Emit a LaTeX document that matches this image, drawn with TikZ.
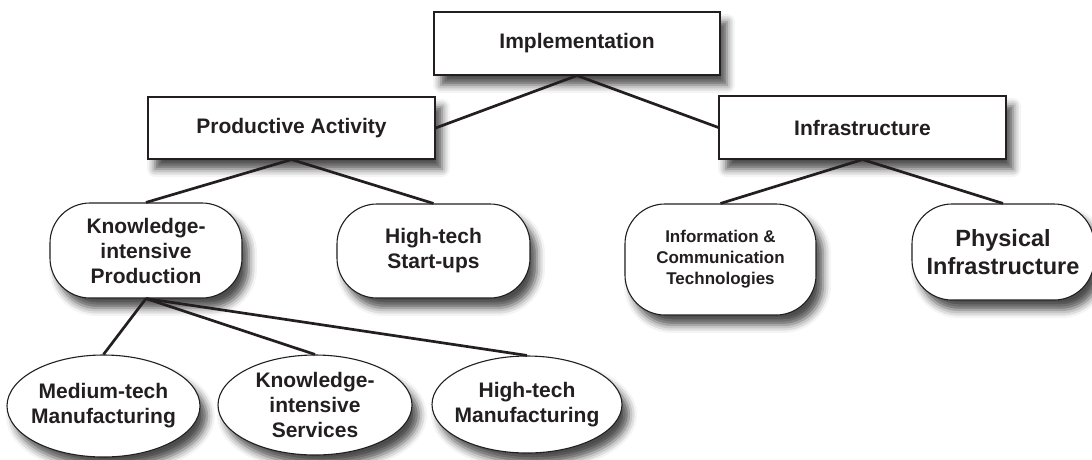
\documentclass[tikz,border=0pt]{standalone}
\usepackage{fontspec}
\setmainfont{Liberation Sans}
\usetikzlibrary{shapes.geometric, shadows.blur}
\definecolor{ink}{HTML}{231F20}

\begin{document}
\begin{tikzpicture}[x=1pt, y=-1pt,
                every node/.style={align=center, text=ink, font=\fontsize{21}{25}\selectfont\bfseries},
                soft/.style={blur shadow={shadow xshift=7pt, shadow yshift=-10pt, shadow blur radius=8pt, shadow opacity=70}},
                box/.style={draw=ink, line width=1.1pt, fill=white, soft, inner sep=0pt},
                pill/.style={box, rounded corners=40pt},
                oval/.style={box, ellipse, inner xsep=-8pt, inner ysep=0pt},
                link/.style={draw=ink, line width=2.7pt}]
                \useasboundingbox (0,0) rectangle (1092,459);
                % top level and its two branches
                \node[box, minimum width=286pt, minimum height=63pt] (impl)  at (577,43.5)   {Implementation};
                \node[box, minimum width=287pt, minimum height=62pt] (prod)  at (291.5,128)  {Productive Activity};
                \node[box, minimum width=287pt, minimum height=63pt] (infra) at (862.5,127.5) {Infrastructure};
                % second level
                \node[pill, minimum width=192pt, minimum height=95pt]  (kip)  at (146,250.5) {Knowledge-\\intensive\\Production};
                \node[pill, minimum width=193pt, minimum height=94pt]  (hts)  at (433.5,251) {High-tech\\Start-ups};
                \node[pill, minimum width=191pt, minimum height=111pt, font=\fontsize{17}{21}\selectfont\bfseries]
                      (ict)  at (720.5,259.5) {Information \&\\Communication\\Technologies};
                \node[pill, minimum width=182pt, minimum height=96pt, font=\fontsize{23.5}{28}\selectfont\bfseries]
                      (phys) at (1003,252) {Physical\\Infrastructure};
                % third level
                \node[oval, minimum width=193pt, minimum height=102pt] (mtm) at (103.5,406) {Medium-tech\\Manufacturing};
                \node[oval, minimum width=194pt, minimum height=100pt] (kis) at (315,405)   {Knowledge-\\intensive\\Services};
                \node[oval, minimum width=190pt, minimum height=97pt]  (htm) at (527,404.5) {High-tech\\Manufacturing};
                \draw[link] (impl.south)  -- (prod.east);
                \draw[link] (impl.south)  -- (infra.west);
                \draw[link] (prod.south)  -- (kip.north);
                \draw[link] (prod.south)  -- (hts.north);
                \draw[link] (infra.south) -- (ict.north);
                \draw[link] (infra.south) -- (phys.north);
                \draw[link] (kip.south)   -- (mtm.north);
                \draw[link] (kip.south)   -- (kis.north);
                \draw[link] (kip.south)   -- (htm.north);
            \end{tikzpicture}
\end{document}
